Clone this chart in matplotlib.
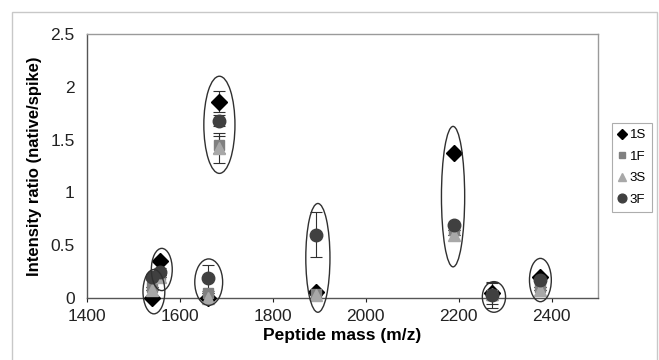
import matplotlib
matplotlib.use("Agg")
import matplotlib.pyplot as plt
from matplotlib.patches import Ellipse, Rectangle
from matplotlib.lines import Line2D

plt.rcParams['font.family'] = ['Liberation Sans', 'DejaVu Sans']

# Data
masses = [1540, 1557, 1660, 1684, 1894, 2191, 2272, 2376]
s1S = [0.00, 0.35, 0.00, 1.86, 0.06, 1.37, 0.05, 0.20]
s1F = [0.10, 0.22, 0.05, 1.45, 0.04, 0.64, 0.03, 0.10]
s3S = [0.08, 0.20, 0.00, 1.42, 0.03, 0.60, 0.04, 0.08]
s3F = [0.20, 0.25, 0.19, 1.68, 0.60, 0.69, 0.03, 0.17]
e1S = [0, 0, 0, 0.10, 0, 0, 0.02, 0]
e1F = [0, 0, 0, 0.08, 0, 0, 0.05, 0]
e3S = [0, 0, 0, 0.14, 0, 0, 0.10, 0]
e3F = [0.03, 0.03, 0.12, 0.05, 0.21, 0, 0.12, 0]
series_names = ["1S", "1F", "3S", "3F"]

# Ellipse annotations (center x, center y, width, height) in data units
ell_cx = [1544, 1561, 1662, 1685, 1897, 2188, 2276, 2376]
ell_cy = [0.06, 0.27, 0.15, 1.64, 0.38, 0.96, 0.01, 0.17]
ell_w = [47, 45, 60, 67, 52, 50, 50, 47]
ell_h = [0.42, 0.40, 0.44, 0.92, 1.03, 1.33, 0.29, 0.41]

fig = plt.figure(figsize=(6.59, 3.6), dpi=100)
# outer frame
fig.patches.append(Rectangle((12/659, -0.1), 645/659, 1.1 - 12/360,
                             transform=fig.transFigure, fill=False,
                             edgecolor='#c8c8c8', lw=1.0))
ax = fig.add_axes([87/659, 1 - 298/360, (598-87)/659, (298-34)/360])

styles = [
    dict(marker='D', color='#000000', ms=8),
    dict(marker='s', color='#808080', ms=7),
    dict(marker='^', color='#a8a8a8', ms=8),
    dict(marker='o', color='#404040', ms=9),
]
vals = [s1S, s1F, s3S, s3F]
errs = [e1S, e1F, e3S, e3F]
handles = []
for name, v, e, st in zip(series_names, vals, errs, styles):
    ax.errorbar(masses, v, yerr=e, fmt=st['marker'], color=st['color'],
                ms=st['ms'], mec=st['color'], ecolor='#303030', elinewidth=0.8,
                capsize=4, capthick=0.8, clip_on=False, zorder=3)
    handles.append(Line2D([], [], linestyle='none', marker=st['marker'],
                          color=st['color'], mec=st['color'],
                          ms=st['ms'] * 0.7, label=name))

for cx, cy, w, h in zip(ell_cx, ell_cy, ell_w, ell_h):
    ax.add_patch(Ellipse((cx, cy), w, h, fill=False, edgecolor='#303030',
                         lw=1.0, clip_on=False, zorder=4))

ax.set_xlim(1400, 2500)
ax.set_ylim(0, 2.5)
ax.set_xticks([1400, 1600, 1800, 2000, 2200, 2400])
ax.set_yticks([0, 0.5, 1, 1.5, 2, 2.5])
ax.set_yticklabels(['0', '0.5', '1', '1.5', '2', '2.5'])
ax.tick_params(axis='both', labelsize=12.5, colors='#222222', length=3,
               direction='out', width=0.8)
ax.tick_params(axis='x', pad=5)
ax.tick_params(axis='y', length=0, pad=9)
for sp in ['top', 'right']:
    ax.spines[sp].set_color('#9a9a9a')
for sp in ['left', 'bottom']:
    ax.spines[sp].set_color('#555555')
for sp in ax.spines.values():
    sp.set_linewidth(1.0)

ax.set_xlabel('Peptide mass (m/z)', fontsize=12.5, fontweight='bold', labelpad=3)
ax.set_ylabel('Intensity ratio (native/spike)', fontsize=12, fontweight='bold', labelpad=6)

leg = fig.legend(handles=handles, loc='upper left',
                 bbox_to_anchor=(612/659, 1 - 123/360),
                 fontsize=9.5, frameon=True, fancybox=False, edgecolor='#999999',
                 handlelength=0.6, handletextpad=0.3, borderpad=0.45,
                 labelspacing=0.7, borderaxespad=0)
leg.get_frame().set_linewidth(0.8)

fig.savefig('out.png', dpi=100)
